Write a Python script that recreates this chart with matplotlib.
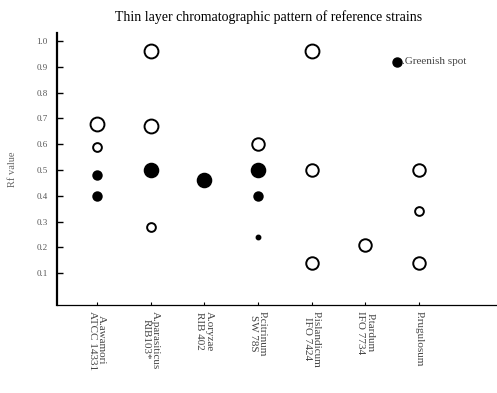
import matplotlib
matplotlib.use('Agg')
import matplotlib.pyplot as plt

plt.rcParams['font.family'] = ['Liberation Serif', 'DejaVu Serif']

strains = ['A.awamori\nATCC 14331', 'A.parasiticus\nRIB103*', 'A.oryzae\nRIB 402',
           'P.citrinum\nSW 78S', 'P.islandicum\nIFO 7424', 'P.tardum\nIFO 7734',
           'P.rugulosum']

# spots: strain index, Rf value, kind (o = open, g = greenish), size class
spot_strain = [0, 0, 0, 0, 1, 1, 1, 1, 2, 3, 3, 3, 3, 4, 4, 4, 5, 6, 6, 6]
spot_rf = [0.68, 0.59, 0.48, 0.40,
           0.96, 0.67, 0.50, 0.28,
           0.46,
           0.60, 0.50, 0.40, 0.24,
           0.96, 0.50, 0.14,
           0.21,
           0.50, 0.34, 0.14]
spot_kind = ['o', 'o', 'g', 'g',
             'o', 'o', 'g', 'o',
             'g',
             'o', 'g', 'g', 'g',
             'o', 'o', 'o',
             'o',
             'o', 'o', 'o']
spot_size = ['L', 'S', 'S', 'S',
             'L', 'L', 'L', 'S',
             'L',
             'M', 'L', 'S', 'T',
             'L', 'M', 'M',
             'M',
             'M', 'S', 'M']

yticks = [0.1, 0.2, 0.3, 0.4, 0.5, 0.6, 0.7, 0.8, 0.9, 1.0]

sizes = {'L': 10.0, 'M': 9.0, 'S': 6.3, 'T': 3.0}

fig = plt.figure(figsize=(4.97, 3.93), dpi=100)
ax = fig.add_axes([0.115, 0.224, 0.885, 0.692])

for s, rf, k, sz in zip(spot_strain, spot_rf, spot_kind, spot_size):
    if k == 'g':
        ax.plot(s + 1, rf, 'o', ms=sizes[sz], mfc='black', mec='black', mew=1.2)
    else:
        ax.plot(s + 1, rf, 'o', ms=sizes[sz], mfc='white', mec='black', mew=1.4)

# note for the filled spots
ax.plot(6.6, 0.92, 'o', ms=6.5, mfc='black', mec='black')
ax.text(6.68, 0.92, '.Greenish spot', fontsize=8, va='center', color='#444444')

ax.set_xlim(0.25, 8.46)
ax.set_ylim(-0.023, 1.031)
ax.set_yticks(yticks)
ax.set_yticklabels(['%.1f' % v for v in yticks], fontsize=6.5, color='#555555')
ax.set_xticks(range(1, len(strains) + 1))
ax.set_xticklabels(strains, rotation=-90, fontsize=8, va='top', ha='center',
                   linespacing=1.0, color='#444444')
ax.tick_params(axis='y', direction='in', length=4, width=1.0, pad=7)
ax.tick_params(axis='x', direction='in', length=2, width=0.8, pad=4)

ax.spines['top'].set_visible(False)
ax.spines['right'].set_visible(False)
ax.spines['left'].set_linewidth(1.6)
ax.spines['bottom'].set_linewidth(0.9)

ax.set_ylabel('Rf value', fontsize=7.5, color='#666666', labelpad=14)
fig.suptitle('Thin layer chromatographic pattern of reference strains',
             x=0.54, y=0.975, fontsize=10)

fig.savefig('out.png', dpi=100)
